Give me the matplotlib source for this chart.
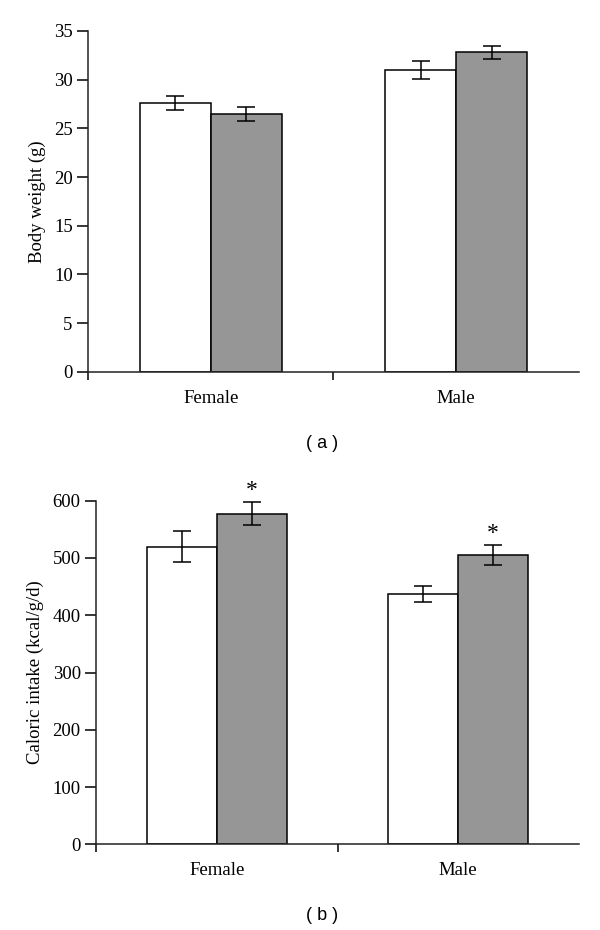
import numpy as np
import matplotlib
matplotlib.use("Agg")
import matplotlib.pyplot as plt

# data
groups = ["Female", "Male"]
weight_white = [27.6, 31.0]
weight_white_err = [0.7, 0.95]
weight_gray = [26.5, 32.8]
weight_gray_err = [0.7, 0.7]

intake_white = [520, 437]
intake_white_err = [27, 14]
intake_gray = [577, 505]
intake_gray_err = [20, 17]
intake_star = [True, True]   # significance marks on gray bars

plt.rcParams['font.family'] = ['Liberation Serif', 'DejaVu Serif']

fig = plt.figure(figsize=(6, 9.3), dpi=100)
ax1 = fig.add_axes([0.1467, 0.6003, 0.818, 0.3664])
ax2 = fig.add_axes([0.16, 0.0921, 0.805, 0.3695])

centers = np.arange(len(groups)) + 0.5
w = 0.29
fs = 13.5


def panel(ax, white, werr, gray, gerr, ylim, yticks, ylabel):
    ekw = dict(ecolor="black", elinewidth=1.1, capsize=6.5, capthick=1.1)
    ax.bar(centers - w / 2, white, w, color="white", edgecolor="black", linewidth=1.1,
           yerr=werr, error_kw=ekw)
    ax.bar(centers + w / 2, gray, w, color="#969696", edgecolor="black", linewidth=1.1,
           yerr=gerr, error_kw=ekw)
    ax.set_xlim(0, 2)
    ax.set_ylim(*ylim)
    ax.set_yticks(yticks)
    ax.set_ylabel(ylabel, fontsize=fs, labelpad=6)
    ax.spines['top'].set_visible(False)
    ax.spines['right'].set_visible(False)
    for s in ['left', 'bottom']:
        ax.spines[s].set_linewidth(1.1)
        ax.spines[s].set_color("#222222")
    ax.set_xticks([0, 1])
    ax.set_xticklabels(["", ""])
    ax.set_xticks(centers, minor=True)
    ax.set_xticklabels(groups, minor=True, fontsize=fs)
    ax.tick_params(axis='x', which='major', direction='out', length=6, width=1.1)
    ax.tick_params(axis='x', which='minor', length=0, pad=13)
    ax.tick_params(axis='y', direction='out', length=8, width=1.1, labelsize=fs, pad=3)


panel(ax1, weight_white, weight_white_err, weight_gray, weight_gray_err,
      (0, 35), np.arange(0, 36, 5), "Body weight (g)")
panel(ax2, intake_white, intake_white_err, intake_gray, intake_gray_err,
      (0, 600), np.arange(0, 601, 100), "Caloric intake (kcal/g/d)")
ax1.spines['left'].set_bounds(0, 35)
ax2.spines['left'].set_bounds(0, 600)

for c, v, e, s in zip(centers, intake_gray, intake_gray_err, intake_star):
    if s:
        ax2.text(c + w / 2, v + e + 3, "*", ha="center", va="bottom", fontsize=17)

fig.text(322 / 600, 1 - 443 / 930, "( a )", ha="center", va="center", fontsize=13,
         family=['Liberation Sans', 'DejaVu Sans'])
fig.text(322 / 600, 1 - 915 / 930, "( b )", ha="center", va="center", fontsize=13,
         family=['Liberation Sans', 'DejaVu Sans'])

fig.savefig("out.png", dpi=100)
